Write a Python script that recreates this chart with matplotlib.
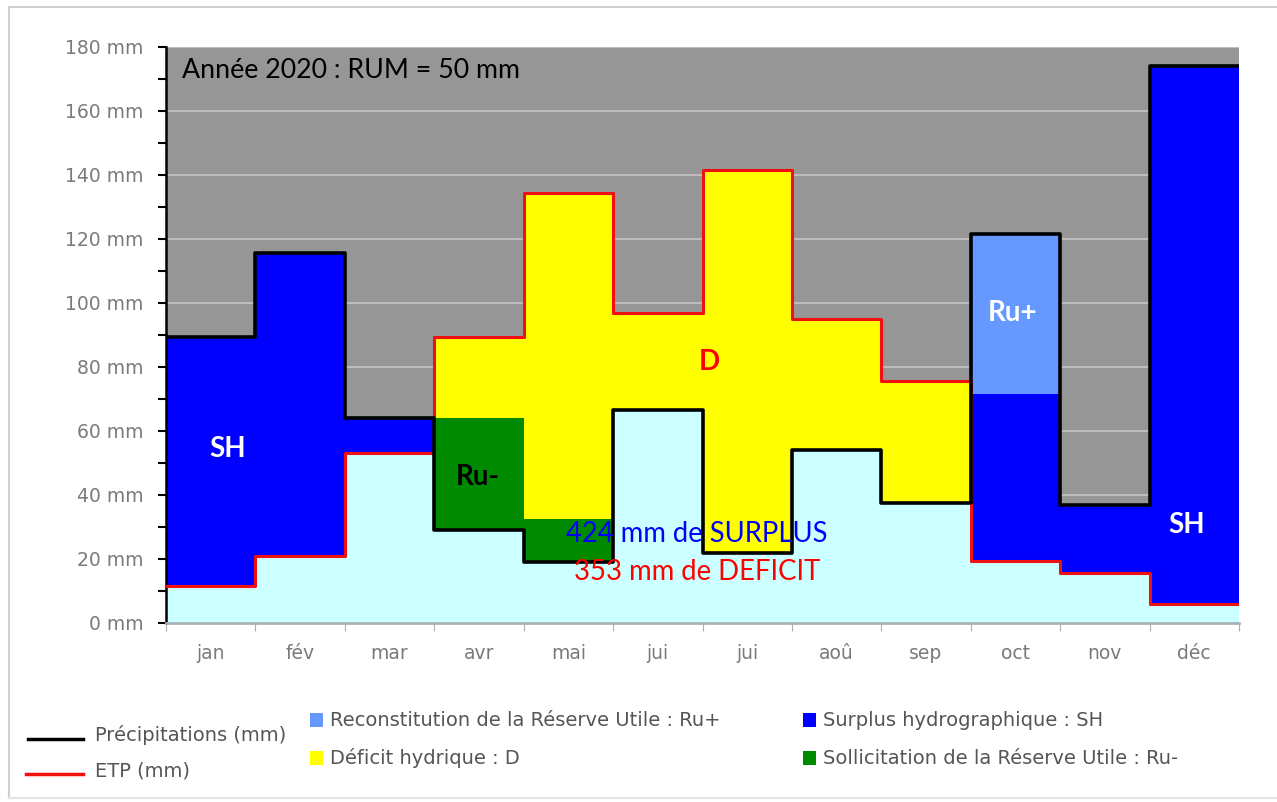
import matplotlib
matplotlib.use("Agg")
import matplotlib.pyplot as plt
import numpy as np
from matplotlib.lines import Line2D
from matplotlib.patches import Rectangle

# Monthly water balance, year 2020 (mm)
months = ["jan", "fév", "mar", "avr", "mai", "jui", "jui", "aoû", "sep", "oct", "nov", "déc"]
precip = [89.5, 115.5, 64.0, 29.0, 19.0, 66.5, 22.0, 54.0, 37.5, 121.5, 37.0, 174.0]
etp = [11.5, 21.0, 53.0, 89.5, 134.5, 97.0, 141.5, 95.0, 75.5, 19.5, 15.5, 6.0]
ru_minus = [0, 0, 0, 35.0, 13.5, 0, 0, 0, 0, 0, 0, 0]   # reserve used
ru_plus = [0, 0, 0, 0, 0, 0, 0, 0, 0, 50.0, 0, 0]       # reserve refilled
yticks = [0, 20, 40, 60, 80, 100, 120, 140, 160, 180]
title_text = "Année 2020 : RUM = 50 mm"
surplus_text = "424 mm de SURPLUS"
deficit_text = "353 mm de DEFICIT"

COLORS = {
    "bg": "#969696",
    "grid": "#c4c4c4",
    "base": "#ccffff",
    "sh": "#0000ff",
    "ru_plus": "#6699ff",
    "d": "#ffff00",
    "ru_minus": "#008a00",
    "precip": "#000000",
    "etp": "#f01010",
    "tick": "#7a7a7a",
}

FONT = "Lato"
AXFONT = "DejaVu Sans"

W, H = 1277, 802
fig = plt.figure(figsize=(W / 100, H / 100), dpi=100)
fig.patch.set_facecolor("white")

# overlay axes in pixel coordinates for frame + legend
lax = fig.add_axes([0, 0, 1, 1])
lax.set_xlim(0, W)
lax.set_ylim(H, 0)
lax.axis("off")

ax_left, ax_right, ax_top, ax_bottom = 166, 1239, 47, 623
ax = fig.add_axes([ax_left / W, 1 - ax_bottom / H,
                   (ax_right - ax_left) / W, (ax_bottom - ax_top) / H])

P = np.array(precip)
E = np.array(etp)
rm = np.array(ru_minus)
rp = np.array(ru_plus)
x = np.arange(len(months))
edges = np.arange(len(months) + 1)


def ext(a):
    return np.append(a, a[-1])


low = np.minimum(P, E)
sh_h = np.where(P > E, P - rp - E, 0)
d_bottom = P + rm
d_h = np.where(E > P, E - d_bottom, 0)

ax.set_facecolor(COLORS["bg"])
# light cyan: part of the rain that is evaporated
ax.fill_between(edges, 0, ext(low), step="post", color=COLORS["base"], lw=0, zorder=2)
layers = [
    (E, sh_h, COLORS["sh"]),
    (P - rp, rp, COLORS["ru_plus"]),
    (P, rm, COLORS["ru_minus"]),
    (d_bottom, d_h, COLORS["d"]),
]
for bottom, height, color in layers:
    # slightly wider than 1 so neighbouring months leave no seam
    ax.bar(x, height, bottom=bottom, width=1.006, align="edge", color=color,
           lw=0, antialiased=False, zorder=2)

ax.step(edges, ext(E), where="post", color=COLORS["etp"], lw=2.2, zorder=4)
ax.step(edges, ext(P), where="post", color=COLORS["precip"], lw=2.6, zorder=5)

ax.set_xlim(0, 12)
ax.set_ylim(0, 180)
ax.set_yticks(yticks)
ax.set_yticklabels([f"{v} mm" for v in yticks], fontsize=13.5, color=COLORS["tick"],
                   family=AXFONT)
ax.set_yticks(np.arange(10, 180, 20), minor=True)
ax.tick_params(axis="y", which="both", direction="out", length=6, width=1.5,
               color="black", pad=10)
ax.set_xticks(edges)
ax.set_xticklabels([])
ax.set_xticks(edges[:-1] + 0.5, minor=True)
ax.set_xticklabels(months, minor=True, fontsize=13.5, color=COLORS["tick"], family=AXFONT)
ax.tick_params(axis="x", which="major", direction="out", length=6, color="#b0b0b0")
ax.tick_params(axis="x", which="minor", length=0, pad=15)
ax.yaxis.grid(True, which="major", color=COLORS["grid"], lw=1.2, zorder=1)
ax.set_axisbelow(True)
for side in ("top", "right"):
    ax.spines[side].set_visible(False)
ax.spines["left"].set_color("black")
ax.spines["left"].set_linewidth(1.8)
ax.spines["bottom"].set_color("#a8b4b4")
ax.spines["bottom"].set_linewidth(2)

# annotations
ax.text(0.18, 172.5, title_text, fontsize=19.3, family=FONT, color="black",
        va="center", ha="left", zorder=6)
ax.text(0.69, 54.5, "SH", fontsize=20, family=FONT, weight="bold", color="white",
        ha="center", va="center", zorder=6)
ax.text(3.49, 45.5, "Ru-", fontsize=20, family=FONT, weight="bold", color="black",
        ha="center", va="center", zorder=6)
ax.text(6.08, 81.5, "D", fontsize=20, family=FONT, weight="bold", color="red",
        ha="center", va="center", zorder=6)
ax.text(9.47, 97.0, "Ru+", fontsize=20, family=FONT, weight="bold", color="white",
        ha="center", va="center", zorder=6)
ax.text(11.41, 30.5, "SH", fontsize=20, family=FONT, weight="bold", color="white",
        ha="center", va="center", zorder=6)
ax.text(5.94, 27.8, surplus_text, fontsize=19.8, family=FONT, color="blue",
        ha="center", va="center", zorder=6)
ax.text(5.94, 15.9, deficit_text, fontsize=19.8, family=FONT, color="red",
        ha="center", va="center", zorder=6)

# outer frame of the chart area
lax.add_line(Line2D([9, 1290], [7, 7], color="#d0d0d0", lw=1.5))
lax.add_line(Line2D([9, 9], [7, 798], color="#d0d0d0", lw=1.5))
lax.add_line(Line2D([9, 1290], [798, 798], color="#e4e4e4", lw=1.5))

# legend
leg_color = "#555555"
leg_size = 14
lax.add_line(Line2D([28, 83], [739, 739], color=COLORS["precip"], lw=2.5))
lax.text(95, 735, "Précipitations (mm)", fontsize=leg_size, family=AXFONT,
         color=leg_color, va="center", ha="left")
lax.add_line(Line2D([26, 83], [774, 774], color=COLORS["etp"], lw=2.5))
lax.text(95, 771, "ETP (mm)", fontsize=leg_size, family=AXFONT, color=leg_color,
         va="center", ha="left")

legend_items = [
    (310, 720, COLORS["ru_plus"], "Reconstitution de la Réserve Utile : Ru+"),
    (310, 758, COLORS["d"], "Déficit hydrique : D"),
    (803, 720, COLORS["sh"], "Surplus hydrographique : SH"),
    (803, 758, COLORS["ru_minus"], "Sollicitation de la Réserve Utile : Ru-"),
]
for lx, ly, c, label in legend_items:
    lax.add_patch(Rectangle((lx, ly - 7), 13, 14, facecolor=c, edgecolor="none"))
    lax.text(lx + 20, ly, label, fontsize=leg_size, family=AXFONT, color=leg_color,
             va="center", ha="left")

fig.savefig("out.png", dpi=100)
